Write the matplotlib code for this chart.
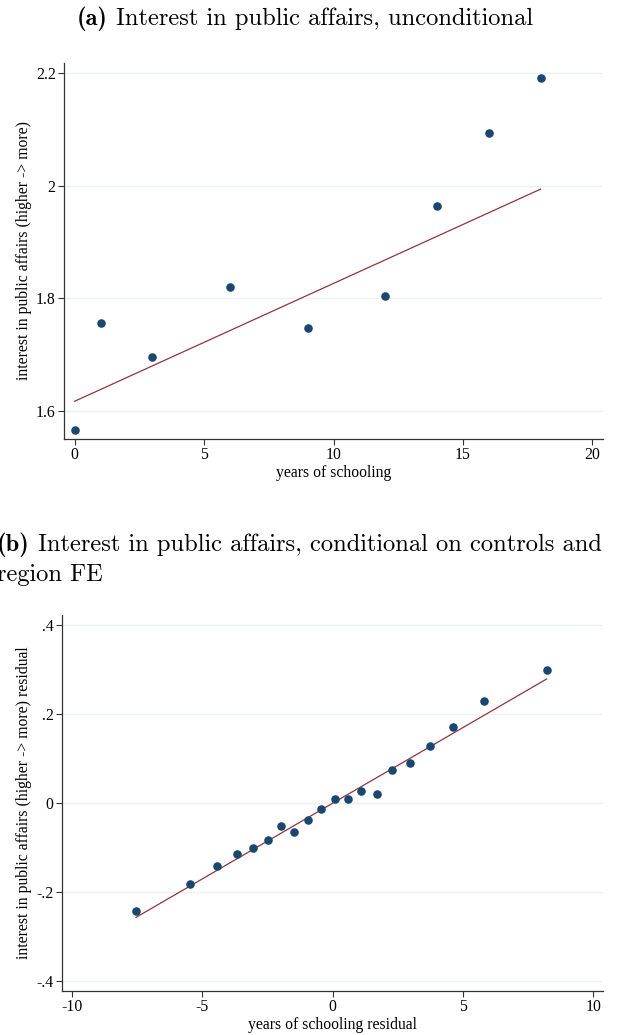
import numpy as np
import matplotlib
matplotlib.use('Agg')
import matplotlib.pyplot as plt
from matplotlib.transforms import offset_copy

# binned means: interest in public affairs by years of schooling
school_years = [0, 1, 3, 6, 9, 12, 14, 16, 18]
interest_mean = [1.566, 1.756, 1.696, 1.820, 1.747, 1.804, 1.964, 2.093, 2.191]
fit_a = (1.617, 0.02094)  # intercept, slope

# binned residuals after controls and region FE
school_resid = [-7.54, -5.48, -4.45, -3.68, -3.04, -2.49, -1.96, -1.46, -0.95, -0.45,
                0.08, 0.59, 1.11, 1.70, 2.29, 2.96, 3.73, 4.63, 5.83, 8.22]
interest_resid = [-0.243, -0.181, -0.142, -0.115, -0.102, -0.083, -0.051, -0.066, -0.039, -0.013,
                  0.010, 0.008, 0.027, 0.020, 0.074, 0.091, 0.127, 0.170, 0.229, 0.298]
fit_b = (-0.0007, 0.0340)

xticks_a = [0, 5, 10, 15, 20]
yticks_a = [1.6, 1.8, 2.0, 2.2]
ytick_labels_a = ['1.6', '1.8', '2', '2.2']
xticks_b = [-10, -5, 0, 5, 10]
xtick_labels_b = ['-10', '-5', '0', '5', '10']
yticks_b = [-0.4, -0.2, 0.0, 0.2, 0.4]
ytick_labels_b = ['-.4', '-.2', '0', '.2', '.4']

NAVY = '#1a476f'
MAROON = '#90353b'
GRID = '#eaf2f3'
SERIF = 'Liberation Serif'
FS = 11.3
TFS = 17.6

fig = plt.figure(figsize=(6.17, 10.35), dpi=100)
W, H = 617.0, 1035.0

def make_axes(left, top, right, bottom):
	return fig.add_axes([left / W, 1 - bottom / H, (right - left) / W, (bottom - top) / H])

def style(ax, xticks, xlabels, yticks, ylabels, xlabel, ylabel):
	for s in ['top', 'right']:
		ax.spines[s].set_visible(False)
	for s in ['left', 'bottom']:
		ax.spines[s].set_color('#333333')
		ax.spines[s].set_linewidth(0.9)
	ax.set_xticks(xticks)
	ax.set_xticklabels(xlabels, fontfamily=SERIF, fontsize=FS)
	ax.set_yticks(yticks)
	ax.set_yticklabels(ylabels, fontfamily=SERIF, fontsize=FS)
	ax.tick_params(direction='out', length=4, width=0.8, color='#333333', pad=2)
	ax.grid(True, axis='y', color=GRID, linewidth=1.0)
	ax.set_axisbelow(True)
	ax.set_xlabel(xlabel, fontfamily=SERIF, fontsize=FS, labelpad=1)
	ax.set_ylabel(ylabel, fontfamily=SERIF, fontsize=FS, labelpad=3)

def caption(x, y, tag, text):
	# bold tag followed by roman caption text, baseline aligned
	t = fig.text(x / W, 1 - y / H, tag, ha='left', va='baseline',
	             fontfamily='cmb10', fontsize=TFS)
	fig.canvas.draw()
	w = t.get_window_extent().width
	tr = offset_copy(fig.transFigure, fig=fig, x=w * 72 / fig.dpi, y=0, units='points')
	fig.text(x / W, 1 - y / H, text, ha='left', va='baseline',
	         fontfamily='cmr10', fontsize=TFS, transform=tr)

# (a) unconditional
ax1 = make_axes(64, 63, 603, 439)
x = np.array(school_years)
xs = np.array([x.min(), x.max()])
ax1.plot(xs, fit_a[0] + fit_a[1] * xs, color=MAROON, linewidth=0.9, zorder=2)
ax1.scatter(school_years, interest_mean, s=38, color=NAVY, zorder=3, linewidths=0)
ax1.set_xlim(-0.41, 20.41)
ax1.set_ylim(1.550, 2.218)
style(ax1, xticks_a, [str(t) for t in xticks_a], yticks_a, ytick_labels_a,
      'years of schooling', 'interest in public affairs (higher -> more)')

# (b) conditional on controls and region FE
ax2 = make_axes(62, 615, 603, 991)
x = np.array(school_resid)
xs = np.array([x.min(), x.max()])
ax2.plot(xs, fit_b[0] + fit_b[1] * xs, color=MAROON, linewidth=0.9, zorder=2)
ax2.scatter(school_resid, interest_resid, s=38, color=NAVY, zorder=3, linewidths=0)
ax2.set_xlim(-10.38, 10.38)
ax2.set_ylim(-0.4225, 0.4225)
style(ax2, xticks_b, xtick_labels_b, yticks_b, ytick_labels_b,
      'years of schooling residual', 'interest in public affairs (higher -> more) residual')

# captions
caption(77, 25, '(a)', ' Interest in public affairs, unconditional')
caption(-3, 551, '(b)', ' Interest in public affairs, conditional on controls and')
fig.text(-3 / W, 1 - 581 / H, 'region FE', ha='left', va='baseline',
         fontfamily='cmr10', fontsize=TFS)

fig.savefig('out.png', dpi=100, facecolor='white')
